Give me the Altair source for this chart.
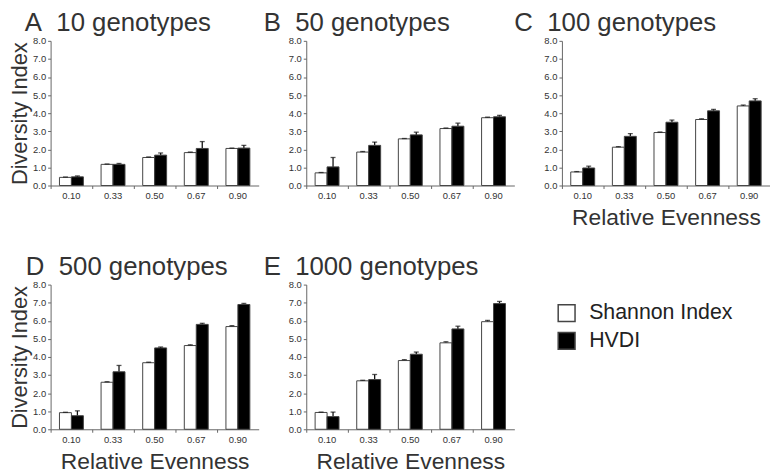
import altair as alt
import pandas as pd

evenness = ["0.10", "0.33", "0.50", "0.67", "0.90"]
series = ["Shannon Index", "HVDI"]

letters = ["A", "B", "C", "D", "E"]
names = ["10 genotypes", "50 genotypes", "100 genotypes",
         "500 genotypes", "1000 genotypes"]

shannon = [
    [0.45, 1.17, 1.55, 1.82, 2.05],
    [0.70, 1.85, 2.58, 3.15, 3.75],
    [0.75, 2.12, 2.93, 3.65, 4.40],
    [0.92, 2.60, 3.68, 4.63, 5.68],
    [0.93, 2.68, 3.80, 4.78, 5.95],
]
shannon_err = [
    [0.02, 0.02, 0.03, 0.03, 0.02],
    [0.02, 0.03, 0.02, 0.03, 0.03],
    [0.02, 0.03, 0.03, 0.04, 0.05],
    [0.02, 0.03, 0.03, 0.04, 0.05],
    [0.02, 0.03, 0.05, 0.06, 0.07],
]
hvdi = [
    [0.48, 1.17, 1.68, 2.05, 2.07],
    [1.03, 2.22, 2.80, 3.28, 3.80],
    [0.97, 2.72, 3.50, 4.13, 4.68],
    [0.75, 3.18, 4.50, 5.80, 6.90],
    [0.70, 2.75, 4.15, 5.55, 6.95],
]
hvdi_err = [
    [0.05, 0.05, 0.12, 0.38, 0.15],
    [0.52, 0.18, 0.15, 0.17, 0.08],
    [0.10, 0.15, 0.12, 0.08, 0.12],
    [0.27, 0.35, 0.05, 0.06, 0.06],
    [0.25, 0.28, 0.12, 0.15, 0.12],
]

title_dx = [-26, -43, -48, -25, -43]
show_y = [True, False, False, True, False]
show_x = [False, False, True, True, True]

FONT = "Liberation Sans"
NBSP = "\u00a0"


def panel(i):
    rows = []
    for j, e in enumerate(evenness):
        rows.append({"evenness": e, "series": series[0], "value": shannon[i][j],
                     "top": shannon[i][j] + shannon_err[i][j]})
        rows.append({"evenness": e, "series": series[1], "value": hvdi[i][j],
                     "top": hvdi[i][j] + hvdi_err[i][j]})
    df = pd.DataFrame(rows)

    x_axis = alt.Axis(title="Relative Evenness" if show_x[i] else None,
                      labelAngle=0, bandPosition=0, titlePadding=7,
                      titleFontSize=23)
    x = alt.X("evenness:N", sort=evenness,
              scale=alt.Scale(paddingInner=0, paddingOuter=0), axis=x_axis)
    xo = alt.XOffset("series:N", sort=series,
                     scale=alt.Scale(paddingInner=0, paddingOuter=0.74))
    y_axis = alt.Axis(title="Diversity Index" if show_y[i] else None,
                      values=[0, 1, 2, 3, 4, 5, 6, 7, 8], format=".1f",
                      titlePadding=1, titleFontSize=22)
    yscale = alt.Scale(domain=[0, 8], nice=False)

    base = alt.Chart(df)
    err = base.mark_rule(color="#111", strokeWidth=1.3).encode(
        x=x, xOffset=xo,
        y=alt.Y("value:Q", scale=yscale, axis=y_axis),
        y2="top:Q")
    cap = base.mark_tick(color="#111", thickness=1.3, size=5).encode(
        x=x, xOffset=xo, y=alt.Y("top:Q", scale=yscale, axis=y_axis))
    bars = base.mark_bar(stroke="#444", strokeWidth=1).encode(
        x=x, xOffset=xo,
        y=alt.Y("value:Q", scale=yscale, axis=y_axis),
        fill=alt.Fill("series:N", sort=series,
                      scale=alt.Scale(domain=series, range=["white", "black"]),
                      legend=alt.Legend(title=None, orient="none",
                                        legendX=510, legendY=264,
                                        symbolType="square", symbolSize=289,
                                        symbolStrokeColor="#444",
                                        symbolStrokeWidth=1.5,
                                        labelFontSize=21.5, labelFont=FONT,
                                        labelColor="#222", labelOffset=12,
                                        rowPadding=4)))
    return alt.layer(err, bars, cap).properties(
        width=210, height=146,
        title=alt.TitleParams(text=letters[i] + NBSP * 2 + names[i],
                              anchor="start", frame="group", fontSize=26,
                              font=FONT, fontWeight="normal", color="#333",
                              dx=title_dx[i], offset=0))


chart = alt.concat(*[panel(i) for i in range(5)], columns=3,
                   spacing={"row": 100, "column": 48}, bounds="flush").properties(
    padding={"left": 0, "top": 0, "right": 0, "bottom": 0}
).configure_view(stroke=None).configure_axis(
    grid=False, tickSize=3, labelFontSize=9.5, labelColor="#333",
    labelFont=FONT, titleFontWeight="normal",
    titleColor="#333", titleFont=FONT,
    domainColor="#666", tickColor="#666", labelPadding=2, labelOverlap=False)

chart.save("out.html", embed_options={"renderer": "svg", "actions": False})
